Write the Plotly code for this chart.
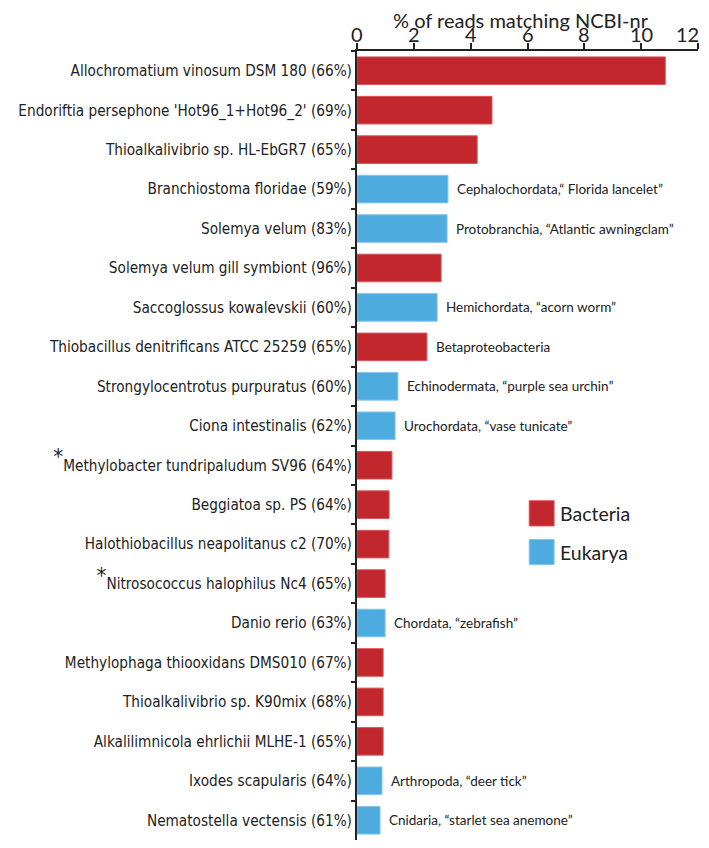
import plotly.graph_objects as go

# organisms, top to bottom
names = [
    "Allochromatium vinosum DSM 180 (66%)",
    "Endoriftia persephone 'Hot96_1+Hot96_2' (69%)",
    "Thioalkalivibrio sp. HL-EbGR7 (65%)",
    "Branchiostoma floridae (59%)",
    "Solemya velum (83%)",
    "Solemya velum gill symbiont (96%)",
    "Saccoglossus kowalevskii (60%)",
    "Thiobacillus denitrificans ATCC 25259 (65%)",
    "Strongylocentrotus purpuratus (60%)",
    "Ciona intestinalis (62%)",
    "<sup><span style='font-size:22px'>*</span></sup>Methylobacter tundripaludum SV96 (64%)",
    "Beggiatoa sp. PS (64%)",
    "Halothiobacillus neapolitanus c2 (70%)",
    "<sup><span style='font-size:22px'>*</span></sup>Nitrosococcus halophilus Nc4 (65%)",
    "Danio rerio (63%)",
    "Methylophaga thiooxidans DMS010 (67%)",
    "Thioalkalivibrio sp. K90mix (68%)",
    "Alkalilimnicola ehrlichii MLHE-1 (65%)",
    "Ixodes scapularis (64%)",
    "Nematostella vectensis (61%)",
]
pct_reads = [10.85, 4.75, 4.23, 3.2, 3.17, 2.96, 2.82, 2.46, 1.44, 1.34,
             1.23, 1.13, 1.12, 0.99, 0.99, 0.92, 0.92, 0.92, 0.88, 0.81]
domain = ["Bacteria", "Bacteria", "Bacteria", "Eukarya", "Eukarya", "Bacteria",
          "Eukarya", "Bacteria", "Eukarya", "Eukarya", "Bacteria", "Bacteria",
          "Bacteria", "Bacteria", "Eukarya", "Bacteria", "Bacteria", "Bacteria",
          "Eukarya", "Eukarya"]
notes = ["", "", "", "Cephalochordata,\u201c Florida lancelet\u201d",
         "Protobranchia, \u201cAtlantic awningclam\u201d", "",
         "Hemichordata, \u201cacorn worm\u201d", "Betaproteobacteria",
         "Echinodermata, \u201cpurple sea urchin\u201d", "Urochordata, \u201cvase tunicate\u201d",
         "", "", "", "", "Chordata, \u201czebrafish\u201d", "", "", "",
         "Arthropoda, \u201cdeer tick\u201d", "Cnidaria, \u201cstarlet sea anemone\u201d"]
x_ticks = [0, 2, 4, 6, 8, 10, 12]

colors = {"Bacteria": "#C1272D", "Eukarya": "#4EABE0"}
border = {"Bacteria": "#D9575C", "Eukarya": "#86C6EC"}

fig = go.Figure()
fig.add_trace(go.Bar(
    x=pct_reads, y=names, orientation="h", width=0.7,
    marker=dict(color=[colors[d] for d in domain],
                line=dict(color=[border[d] for d in domain], width=1)),
    showlegend=False,
))

for n, v, t in zip(names, pct_reads, notes):
    if t:
        fig.add_annotation(x=v, y=n, text=t, showarrow=False, xanchor="left",
                           xshift=7, font=dict(family="Lato", size=13.5, color="#222"))

# top tick labels placed a little closer to the axis than plotly's default;
# the last one is right-aligned so it is not clipped at the page edge
for v in x_ticks:
    last = v == x_ticks[-1]
    fig.add_annotation(x=v, y=1, yref="paper", text=str(v), showarrow=False,
                       xanchor="right" if last else "center",
                       xshift=3 if last else 0,
                       yanchor="bottom", yshift=3,
                       font=dict(family="Lato", size=20, color="#222"))

# legend drawn by hand (big squares)
for i, d in enumerate(["Bacteria", "Eukarya"]):
    y0 = 0.398 - i * 0.049
    fig.add_shape(type="rect", xref="paper", yref="paper",
                  x0=0.505, x1=0.578, y0=y0, y1=y0 + 0.032,
                  fillcolor=colors[d], line=dict(color=border[d], width=1))
    fig.add_annotation(xref="paper", yref="paper", x=0.59, y=y0 + 0.016, text=d,
                       showarrow=False, xanchor="left",
                       font=dict(family="Lato", size=19.5, color="#222"))

# axis title
fig.add_annotation(xref="paper", yref="paper", x=0.481, y=1.0393,
                   text="% of reads matching NCBI-nr", showarrow=False,
                   xanchor="center", yanchor="middle",
                   font=dict(family="Lato", size=20, color="#222"))

# page body keeps an 8px margin, so the figure is a bit smaller than the window
fig.update_layout(
    width=701, height=832,
    margin=dict(l=349, r=11, t=43, b=0),
    plot_bgcolor="white", paper_bgcolor="white",
    xaxis=dict(side="top", range=[0, 12], tickvals=x_ticks, showticklabels=False,
               automargin=False,
               showgrid=False, zeroline=False, showline=True, linecolor="#222",
               linewidth=2, ticks="outside", ticklen=6, tickwidth=2, tickcolor="#222"),
    yaxis=dict(categoryorder="array", categoryarray=names, autorange="reversed",
               automargin=False, ticklabeloverflow="allow",
               showgrid=False, showline=True, linecolor="#222", linewidth=2,
               ticks="outside", tickson="boundaries", ticklen=4, tickwidth=2,
               tickcolor="#222",
               tickfont=dict(family="DejaVu Sans Condensed, DejaVu Sans", size=15.2,
                             color="#222")),
)

fig.write_html("out.html")
